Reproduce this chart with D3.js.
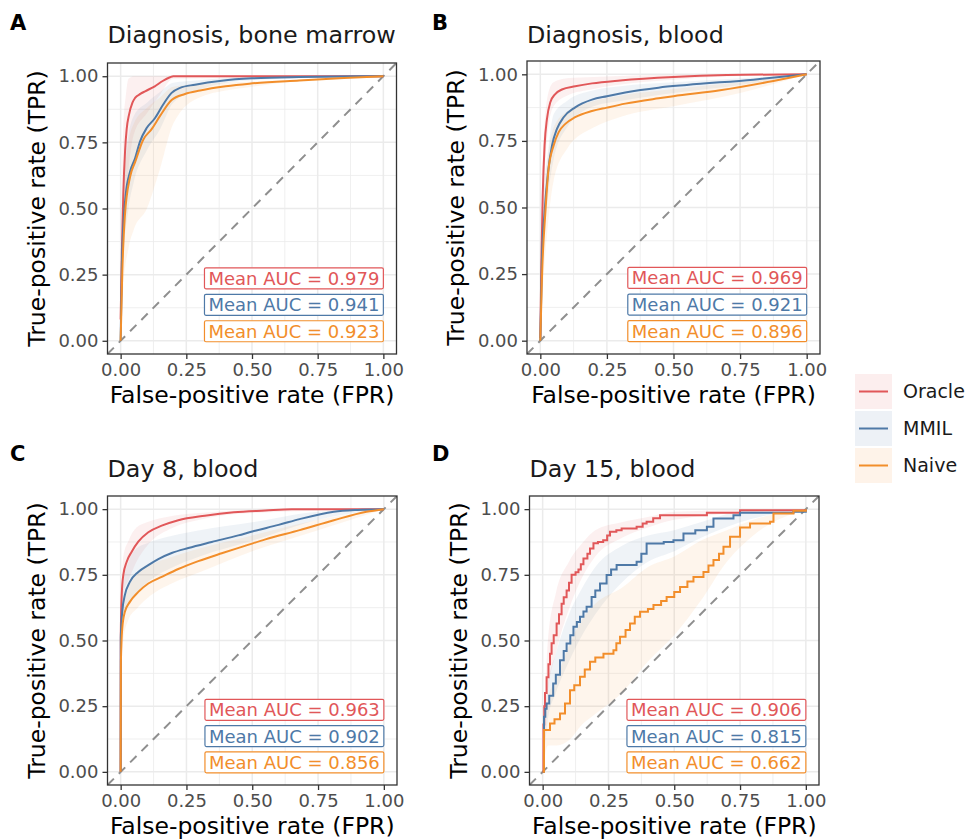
<!DOCTYPE html>
<html>
<head>
<meta charset="utf-8">
<script src="https://cdn.jsdelivr.net/npm/d3@7"></script>
<style>
  body { margin: 0; background: #fff; }
  text { font-family: "DejaVu Sans", sans-serif; }
</style>
</head>
<body>
<div id="chart"></div>
<script>
// ---- data ----
const methods = ["Oracle", "MMIL", "Naive"];
const colors = ["#E15759", "#4E79A7", "#F28E2B"];
const tickValues = [0, 0.25, 0.5, 0.75, 1];
const tickLabels = ["0.00", "0.25", "0.50", "0.75", "1.00"];
const minorValues = [0.125, 0.375, 0.625, 0.875];
const panelLetters = ["A", "B", "C", "D"];
const panelTitles = ["Diagnosis, bone marrow", "Diagnosis, blood", "Day 8, blood", "Day 15, blood"];
const labelYs = [0.2, 0.1, 0.0];

const aucA = [0.979, 0.941, 0.923];
const aucB = [0.969, 0.921, 0.896];
const aucC = [0.963, 0.902, 0.856];
const aucD = [0.906, 0.815, 0.662];

// mean ROC curves [fpr, tpr]
const rocA_oracle = [[0,0.08],[0.005,0.35],[0.01,0.55],[0.017,0.72],[0.023,0.80],[0.032,0.855],[0.045,0.90],[0.055,0.918],[0.075,0.933],[0.093,0.943],[0.13,0.962],[0.16,0.982],[0.188,0.996],[0.2,1],[1,1]];
const rocA_mmil = [[0,0],[0.005,0.30],[0.01,0.43],[0.019,0.55],[0.036,0.64],[0.055,0.69],[0.074,0.754],[0.099,0.804],[0.131,0.842],[0.162,0.893],[0.194,0.937],[0.226,0.956],[0.283,0.968],[0.385,0.983],[0.5,0.992],[0.68,0.997],[1,1]];
const rocA_naive = [[0,0],[0.006,0.25],[0.016,0.47],[0.036,0.62],[0.055,0.675],[0.086,0.76],[0.118,0.80],[0.15,0.85],[0.194,0.91],[0.245,0.933],[0.302,0.946],[0.4,0.962],[0.49,0.972],[0.68,0.984],[0.85,0.993],[1,1]];

const rocB_oracle = [[0,0.01],[0.004,0.30],[0.009,0.545],[0.016,0.733],[0.025,0.833],[0.0375,0.895],[0.056,0.926],[0.081,0.943],[0.131,0.955],[0.194,0.966],[0.3,0.977],[0.5,0.99],[0.7,0.997],[1,1]];
const rocB_mmil = [[0,0],[0.006,0.30],[0.016,0.483],[0.029,0.633],[0.044,0.733],[0.0625,0.795],[0.0875,0.839],[0.131,0.876],[0.194,0.905],[0.25,0.918],[0.319,0.932],[0.444,0.95],[0.55,0.96],[0.8,0.98],[1,1]];
const rocB_naive = [[0,0],[0.006,0.233],[0.019,0.483],[0.031,0.645],[0.05,0.733],[0.069,0.783],[0.094,0.814],[0.131,0.839],[0.194,0.862],[0.25,0.875],[0.319,0.89],[0.444,0.91],[0.5,0.918],[0.675,0.94],[0.875,0.975],[1,1]];

const rocC_oracle = [[0,0],[0.0005,0.52],[0.004,0.673],[0.01,0.749],[0.023,0.80],[0.042,0.838],[0.067,0.876],[0.105,0.912],[0.156,0.937],[0.219,0.958],[0.32,0.975],[0.43,0.988],[0.55,0.995],[0.65,1],[1,1]];
const rocC_mmil = [[0,0],[0.0005,0.51],[0.006,0.61],[0.016,0.673],[0.035,0.723],[0.067,0.761],[0.105,0.787],[0.143,0.81],[0.194,0.833],[0.257,0.852],[0.346,0.875],[0.447,0.9],[0.5,0.915],[0.6,0.94],[0.68,0.962],[0.81,0.99],[0.9,0.997],[1,1]];
const rocC_naive = [[0,0],[0.001,0.42],[0.006,0.546],[0.016,0.609],[0.035,0.647],[0.067,0.685],[0.105,0.717],[0.156,0.742],[0.219,0.772],[0.295,0.802],[0.384,0.832],[0.472,0.86],[0.55,0.885],[0.68,0.92],[0.81,0.958],[0.934,0.99],[1,1]];

const rocD_oracle = [[0,0],[0.003,0.18],[0.006,0.25],[0.009,0.3],[0.015,0.36],[0.022,0.41],[0.028,0.45],[0.034,0.49],[0.042,0.52],[0.053,0.565],[0.062,0.6],[0.072,0.64],[0.08,0.665],[0.091,0.69],[0.1,0.72],[0.11,0.75],[0.125,0.76],[0.136,0.77],[0.145,0.79],[0.155,0.812],[0.17,0.83],[0.18,0.85],[0.193,0.87],[0.21,0.875],[0.23,0.882],[0.245,0.9],[0.256,0.914],[0.28,0.92],[0.3,0.926],[0.357,0.933],[0.38,0.945],[0.395,0.952],[0.42,0.965],[0.446,0.977],[0.624,0.986],[0.75,0.996],[1,1]];
const rocD_mmil = [[0,0],[0.005,0.21],[0.01,0.24],[0.015,0.26],[0.025,0.29],[0.04,0.336],[0.05,0.37],[0.066,0.425],[0.08,0.46],[0.091,0.489],[0.105,0.52],[0.117,0.552],[0.13,0.57],[0.142,0.59],[0.155,0.61],[0.167,0.628],[0.186,0.666],[0.2,0.69],[0.218,0.717],[0.243,0.749],[0.26,0.77],[0.281,0.787],[0.357,0.8],[0.375,0.83],[0.395,0.869],[0.46,0.875],[0.497,0.882],[0.535,0.907],[0.58,0.92],[0.624,0.933],[0.649,0.964],[0.725,0.977],[0.75,0.986],[0.953,0.99],[1,1]];
const rocD_naive = [[0,0],[0.005,0.159],[0.028,0.184],[0.045,0.2],[0.066,0.222],[0.085,0.26],[0.104,0.311],[0.12,0.33],[0.142,0.362],[0.16,0.39],[0.18,0.419],[0.2,0.435],[0.231,0.45],[0.269,0.463],[0.28,0.49],[0.294,0.514],[0.315,0.54],[0.332,0.565],[0.35,0.59],[0.37,0.609],[0.4,0.62],[0.421,0.635],[0.45,0.65],[0.471,0.666],[0.5,0.685],[0.522,0.704],[0.55,0.725],[0.573,0.742],[0.611,0.761],[0.63,0.785],[0.649,0.806],[0.67,0.83],[0.687,0.857],[0.712,0.895],[0.75,0.93],[0.788,0.945],[0.864,0.952],[0.877,0.983],[0.953,0.994],[1,1]];

// confidence bands [fpr, lower, upper]
const bandA_oracle = [[0,0,0.25],[0.01,0.35,0.8],[0.02,0.55,0.93],[0.03,0.65,0.99],[0.05,0.78,1],[0.1,0.86,1],[0.15,0.93,1],[0.2,0.99,1],[1,1,1]];
const bandA_mmil = [[0,0,0.1],[0.01,0.3,0.6],[0.03,0.5,0.78],[0.05,0.6,0.85],[0.1,0.72,0.9],[0.15,0.8,0.94],[0.2,0.9,0.975],[0.3,0.95,0.985],[0.5,0.985,0.998],[1,1,1]];
const bandA_naive = [[0,0,0.05],[0.01,0.2,0.55],[0.03,0.35,0.75],[0.05,0.42,0.82],[0.1,0.5,0.88],[0.15,0.65,0.92],[0.2,0.82,0.96],[0.3,0.92,0.97],[0.5,0.96,0.98],[1,1,1]];

const bandB_oracle = [[0,0,0.05],[0.01,0.45,0.7],[0.03,0.8,0.93],[0.05,0.88,0.97],[0.1,0.92,0.985],[0.2,0.945,0.99],[0.5,0.98,0.998],[1,1,1]];
const bandB_mmil = [[0,0,0.03],[0.01,0.3,0.5],[0.03,0.55,0.72],[0.05,0.68,0.85],[0.1,0.8,0.9],[0.2,0.88,0.94],[0.3,0.9,0.955],[0.5,0.93,0.97],[0.75,0.96,0.985],[1,1,1]];
const bandB_naive = [[0,0,0.02],[0.01,0.2,0.45],[0.03,0.45,0.7],[0.05,0.6,0.8],[0.1,0.72,0.86],[0.2,0.8,0.9],[0.3,0.84,0.92],[0.5,0.88,0.945],[0.75,0.93,0.97],[1,1,1]];

const bandC_oracle = [[0,0.5,0.6],[0.01,0.68,0.82],[0.03,0.73,0.88],[0.06,0.8,0.93],[0.1,0.86,0.95],[0.2,0.93,0.975],[0.3,0.96,0.985],[0.5,0.985,0.998],[1,1,1]];
const bandC_mmil = [[0,0.45,0.55],[0.01,0.57,0.72],[0.03,0.63,0.8],[0.06,0.68,0.85],[0.1,0.72,0.87],[0.2,0.78,0.9],[0.3,0.82,0.92],[0.5,0.88,0.95],[0.75,0.96,0.99],[1,1,1]];
const bandC_naive = [[0,0.38,0.46],[0.01,0.5,0.62],[0.03,0.58,0.7],[0.06,0.62,0.75],[0.1,0.66,0.78],[0.2,0.72,0.82],[0.3,0.76,0.85],[0.5,0.84,0.9],[0.75,0.92,0.96],[1,1,1]];

const bandD_oracle = [[0,0,0.05],[0.02,0.3,0.5],[0.05,0.45,0.68],[0.1,0.62,0.8],[0.15,0.74,0.87],[0.2,0.82,0.92],[0.3,0.89,0.95],[0.4,0.93,0.97],[0.5,0.96,0.99],[1,1,1]];
const bandD_mmil = [[0,0,0.05],[0.02,0.2,0.33],[0.05,0.3,0.45],[0.1,0.42,0.6],[0.15,0.52,0.7],[0.2,0.6,0.78],[0.3,0.72,0.86],[0.4,0.8,0.9],[0.5,0.84,0.92],[0.6,0.89,0.95],[0.75,0.95,0.99],[1,1,1]];
const bandD_naive = [[0,0,0.05],[0.02,0.1,0.28],[0.05,0.1,0.35],[0.1,0.12,0.48],[0.15,0.18,0.58],[0.2,0.22,0.64],[0.3,0.3,0.7],[0.4,0.42,0.78],[0.5,0.52,0.82],[0.6,0.65,0.88],[0.7,0.8,0.92],[0.8,0.9,0.96],[1,1,1]];

// ---- layout ----
const width = 965, height = 840;
const boxes = [
  { l: 107.5, r: 396.5, t: 63, b: 354, lx: 10, ly: 30, ty: 43 },
  { l: 527,   r: 820,   t: 61, b: 354, lx: 432, ly: 30, ty: 43 },
  { l: 107.5, r: 397,   t: 496, b: 785, lx: 10, ly: 461, ty: 477 },
  { l: 529.5, r: 819,   t: 496, b: 785, lx: 432, ly: 461, ty: 477 }
];
const panelRocs = [
  [rocA_oracle, rocA_mmil, rocA_naive],
  [rocB_oracle, rocB_mmil, rocB_naive],
  [rocC_oracle, rocC_mmil, rocC_naive],
  [rocD_oracle, rocD_mmil, rocD_naive]
];
const panelBands = [
  [bandA_oracle, bandA_mmil, bandA_naive],
  [bandB_oracle, bandB_mmil, bandB_naive],
  [bandC_oracle, bandC_mmil, bandC_naive],
  [bandD_oracle, bandD_mmil, bandD_naive]
];
const panelAucs = [aucA, aucB, aucC, aucD];

const svg = d3.select("#chart").append("svg")
  .attr("width", width).attr("height", height);

svg.append("defs").selectAll("clipPath")
  .data(boxes).enter().append("clipPath")
  .attr("id", (d, i) => "clip" + i)
  .append("rect")
  .attr("x", d => d.l).attr("y", d => d.t)
  .attr("width", d => d.r - d.l).attr("height", d => d.b - d.t);

boxes.forEach((bx, i) => {
  const x = d3.scaleLinear().domain([-0.05, 1.05]).range([bx.l, bx.r]);
  const y = d3.scaleLinear().domain([-0.05, 1.05]).range([bx.b, bx.t]);
  const g = svg.append("g");
  const stepped = i === 3;

  // letter + title
  g.append("text").attr("x", bx.lx).attr("y", bx.ly)
    .attr("font-size", 21).attr("font-weight", "bold").attr("fill", "#000")
    .text(panelLetters[i]);
  g.append("text").attr("x", bx.l).attr("y", bx.ty)
    .attr("font-size", 23.8).attr("fill", "#1a1a1a")
    .text(panelTitles[i]);

  // grid
  const grid = g.append("g");
  minorValues.forEach(v => {
    grid.append("line").attr("x1", x(v)).attr("x2", x(v)).attr("y1", bx.t).attr("y2", bx.b)
      .attr("stroke", "#EBEBEB").attr("stroke-width", 0.8);
    grid.append("line").attr("y1", y(v)).attr("y2", y(v)).attr("x1", bx.l).attr("x2", bx.r)
      .attr("stroke", "#EBEBEB").attr("stroke-width", 0.8);
  });
  tickValues.forEach(v => {
    grid.append("line").attr("x1", x(v)).attr("x2", x(v)).attr("y1", bx.t).attr("y2", bx.b)
      .attr("stroke", "#EBEBEB").attr("stroke-width", 1.5);
    grid.append("line").attr("y1", y(v)).attr("y2", y(v)).attr("x1", bx.l).attr("x2", bx.r)
      .attr("stroke", "#EBEBEB").attr("stroke-width", 1.5);
  });

  const plot = g.append("g").attr("clip-path", `url(#clip${i})`);

  // bands
  const area = d3.area().x(d => x(d[0])).y0(d => y(d[1])).y1(d => y(d[2]))
    .curve(d3.curveMonotoneX);
  panelBands[i].forEach((b, k) => {
    plot.append("path").attr("d", area(b))
      .attr("fill", colors[k]).attr("fill-opacity", 0.09);
  });

  // diagonal
  plot.append("line")
    .attr("x1", x(-0.05)).attr("y1", y(-0.05)).attr("x2", x(1.05)).attr("y2", y(1.05))
    .attr("stroke", "#8f8f8f").attr("stroke-width", 2).attr("stroke-dasharray", "9,7");

  // curves
  const line = d3.line().x(d => x(d[0])).y(d => y(d[1]))
    .curve(stepped ? d3.curveStepAfter : d3.curveMonotoneX);
  panelRocs[i].forEach((r, k) => {
    plot.append("path").attr("d", line(r))
      .attr("fill", "none").attr("stroke", colors[k]).attr("stroke-width", 2);
  });

  // border
  g.append("rect").attr("x", bx.l).attr("y", bx.t)
    .attr("width", bx.r - bx.l).attr("height", bx.b - bx.t)
    .attr("fill", "none").attr("stroke", "#333").attr("stroke-width", 1.3);

  // axes
  const xAxis = d3.axisBottom(x).tickValues(tickValues)
    .tickFormat((d, j) => tickLabels[j]).tickSize(5).tickPadding(4);
  const yAxis = d3.axisLeft(y).tickValues(tickValues)
    .tickFormat((d, j) => tickLabels[j]).tickSize(5).tickPadding(4);
  const ax = g.append("g").attr("transform", `translate(0,${bx.b})`).call(xAxis);
  const ay = g.append("g").attr("transform", `translate(${bx.l},0)`).call(yAxis);
  [ax, ay].forEach(a => {
    a.select(".domain").remove();
    a.selectAll(".tick line").attr("stroke", "#333").attr("stroke-width", 1.3);
    a.selectAll(".tick text").attr("fill", "#4D4D4D")
      .attr("font-size", 18).attr("font-family", "DejaVu Sans");
  });

  g.append("text")
    .attr("x", (bx.l + bx.r) / 2).attr("y", bx.b + 49)
    .attr("text-anchor", "middle").attr("font-size", 23.5).attr("fill", "#000")
    .text("False-positive rate (FPR)");
  g.append("text")
    .attr("transform", `translate(${bx.l - 63},${(bx.t + bx.b) / 2}) rotate(-90)`)
    .attr("text-anchor", "middle").attr("font-size", 23.5).attr("fill", "#000")
    .text("True-positive rate (TPR)");

  // AUC labels
  panelAucs[i].forEach((a, k) => {
    const bottom = y(labelYs[k]) + 1;
    const right = x(1);
    const t = g.append("text").attr("x", right - 4).attr("y", bottom - 4)
      .attr("text-anchor", "end").attr("font-size", 18).attr("fill", colors[k])
      .text(`Mean AUC = ${a.toFixed(3)}`);
    const w = t.node().getComputedTextLength();
    g.insert("rect", () => t.node())
      .attr("x", right - w - 8).attr("y", bottom - 21)
      .attr("width", w + 8).attr("height", 21).attr("rx", 1.5)
      .attr("fill", "#fff").attr("stroke", colors[k]).attr("stroke-width", 1.2);
  });
});

// legend
const legend = svg.append("g").attr("transform", "translate(855,374)");
methods.forEach((m, k) => {
  const gy = k * 37;
  legend.append("rect").attr("x", 0).attr("y", gy).attr("width", 37).attr("height", 35)
    .attr("fill", colors[k]).attr("fill-opacity", 0.1);
  legend.append("line").attr("x1", 4).attr("x2", 33).attr("y1", gy + 17.5).attr("y2", gy + 17.5)
    .attr("stroke", colors[k]).attr("stroke-width", 2);
  legend.append("text").attr("x", 48).attr("y", gy + 17.5).attr("dy", "0.35em")
    .attr("font-family", "Noto Sans").attr("font-size", 19).attr("fill", "#1a1a1a")
    .text(m);
});
</script>
</body>
</html>
